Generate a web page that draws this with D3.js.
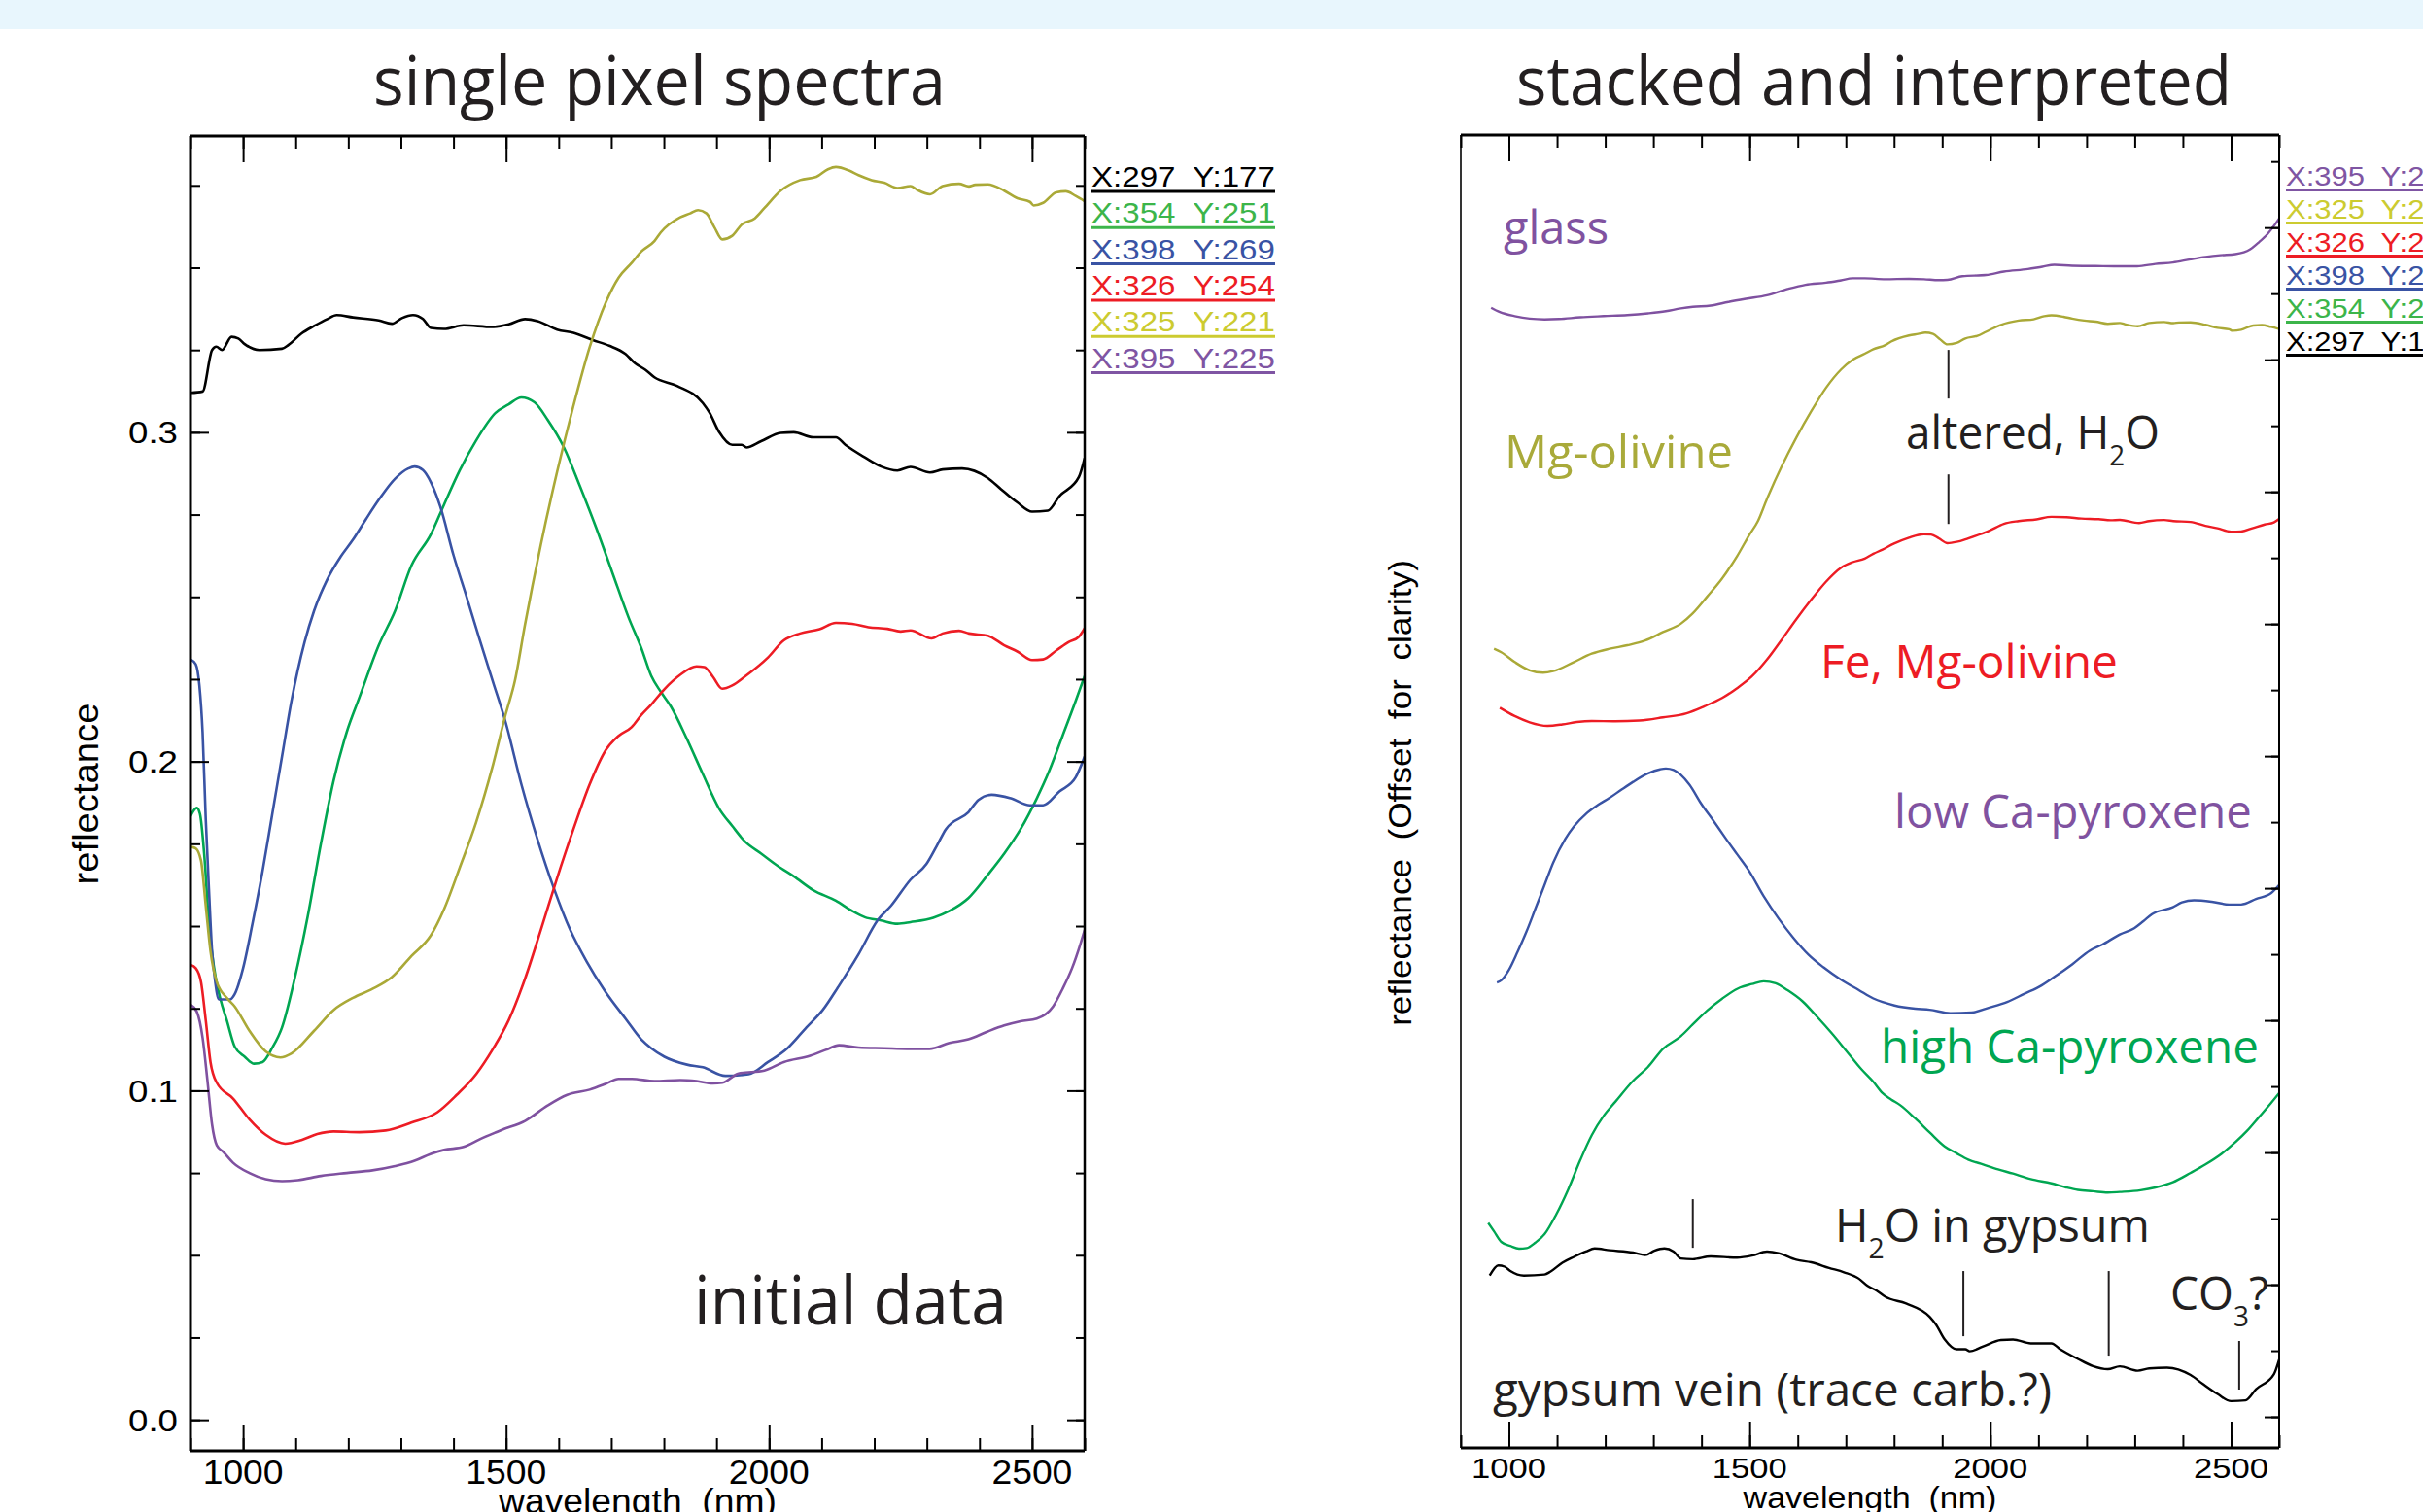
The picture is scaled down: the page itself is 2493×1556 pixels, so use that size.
<!DOCTYPE html>
<html>
<head>
<meta charset="utf-8">
<script src="https://cdn.jsdelivr.net/npm/d3@7"></script>
<style>
  body { margin: 0; background: #fff; }
  svg { display: block; }
</style>
</head>
<body>
<svg id="chart" width="2493" height="1556"></svg>
<script>
"use strict";

var spec297_177 = [[900,0.312],[923,0.3124],[941,0.325],[949,0.326],[960,0.325],[978,0.329],[991,0.3285],[1003,0.3268],[1031,0.325],[1074,0.3254],[1086,0.3265],[1111,0.330],[1135,0.3323],[1160,0.3344],[1178,0.3356],[1209,0.3349],[1258,0.334],[1283,0.333],[1302,0.3347],[1323,0.3356],[1342,0.3344],[1357,0.3317],[1382,0.3314],[1419,0.3325],[1474,0.332],[1505,0.3328],[1536,0.3344],[1560,0.3338],[1597,0.3312],[1628,0.3302],[1665,0.3280],[1696,0.3263],[1727,0.3238],[1745,0.3210],[1764,0.3191],[1782,0.3167],[1825,0.3141],[1874,0.3089],[1887,0.3059],[1905,0.3001],[1930,0.2962],[1948,0.2962],[1957,0.2954],[1985,0.2973],[2022,0.2998],[2047,0.3000],[2084,0.2985],[2127,0.2985],[2145,0.2962],[2182,0.2924],[2213,0.2896],[2244,0.2884],[2269,0.2895],[2306,0.2878],[2330,0.2887],[2367,0.2890],[2416,0.2861],[2441,0.2827],[2472,0.2787],[2500,0.2759],[2530,0.2762],[2552,0.2806],[2589,0.2864],[2600,0.2922]];

var spec354_251 = [[900,0.1834],[912,0.1859],[918,0.1841],[926,0.1720],[935,0.1509],[944,0.1382],[957,0.1277],[969,0.1214],[984,0.1134],[1003,0.1103],[1021,0.1082],[1037,0.1087],[1055,0.1129],[1074,0.1192],[1098,0.1340],[1123,0.1530],[1148,0.1751],[1172,0.1941],[1197,0.2089],[1221,0.2194],[1258,0.2353],[1289,0.2458],[1320,0.2595],[1357,0.2690],[1382,0.2780],[1412,0.2885],[1443,0.2975],[1480,0.3059],[1505,0.3085],[1529,0.3106],[1554,0.3091],[1579,0.3038],[1610,0.2954],[1640,0.2838],[1671,0.2711],[1702,0.2574],[1733,0.2437],[1757,0.2345],[1776,0.2260],[1794,0.2212],[1813,0.2168],[1844,0.2068],[1874,0.1962],[1905,0.1857],[1930,0.1804],[1954,0.1757],[1985,0.1720],[2016,0.1683],[2047,0.1651],[2084,0.1609],[2127,0.1577],[2158,0.1546],[2182,0.1527],[2213,0.1517],[2244,0.1507],[2269,0.1512],[2312,0.1525],[2343,0.1546],[2379,0.1585],[2416,0.1656],[2447,0.1720],[2478,0.1794],[2509,0.1888],[2533,0.1973],[2558,0.2078],[2583,0.2184],[2600,0.2260]];

var spec398_269 = [[900,0.2310],[910,0.2295],[917,0.2230],[923,0.2089],[929,0.1825],[935,0.1614],[941,0.1424],[947,0.1330],[954,0.1277],[975,0.1277],[984,0.1293],[1000,0.1372],[1018,0.1509],[1037,0.1667],[1055,0.1836],[1074,0.2015],[1092,0.2184],[1117,0.2363],[1135,0.2458],[1160,0.2553],[1185,0.2621],[1209,0.2674],[1234,0.2737],[1258,0.2795],[1289,0.2859],[1314,0.2890],[1326,0.2896],[1342,0.2885],[1357,0.2848],[1375,0.2774],[1400,0.2627],[1425,0.2500],[1449,0.2374],[1474,0.2247],[1499,0.2120],[1529,0.1931],[1560,0.1762],[1591,0.1614],[1622,0.1488],[1653,0.1393],[1690,0.1298],[1727,0.1219],[1757,0.1156],[1776,0.1129],[1801,0.1103],[1844,0.1079],[1874,0.1071],[1917,0.1045],[1961,0.1050],[1998,0.1087],[2035,0.1129],[2071,0.1192],[2102,0.1245],[2133,0.1319],[2170,0.1414],[2207,0.1519],[2232,0.1562],[2269,0.1641],[2299,0.1688],[2318,0.1741],[2336,0.1794],[2379,0.1846],[2398,0.1883],[2423,0.1899],[2460,0.1888],[2496,0.1867],[2521,0.1867],[2552,0.1909],[2583,0.1952],[2600,0.2015]];

var spec326_254 = [[900,0.1382],[910,0.1372],[920,0.1330],[929,0.1214],[938,0.1087],[950,0.1024],[981,0.0976],[1012,0.0913],[1043,0.0866],[1080,0.0839],[1111,0.0850],[1141,0.0868],[1172,0.0876],[1221,0.0874],[1271,0.0879],[1320,0.0903],[1369,0.0934],[1406,0.0987],[1443,0.1050],[1474,0.1124],[1505,0.1214],[1536,0.1340],[1566,0.1488],[1597,0.1646],[1628,0.1794],[1659,0.1931],[1690,0.2036],[1714,0.2078],[1739,0.2105],[1757,0.2141],[1776,0.2173],[1800,0.2218],[1831,0.2263],[1862,0.2289],[1877,0.2287],[1893,0.2258],[1911,0.2221],[1930,0.2231],[1954,0.2258],[1998,0.2316],[2028,0.2368],[2059,0.2389],[2096,0.2402],[2127,0.2421],[2158,0.2418],[2189,0.2408],[2225,0.2403],[2250,0.2395],[2269,0.2398],[2309,0.2374],[2330,0.2389],[2361,0.2397],[2380,0.2389],[2416,0.2382],[2447,0.2353],[2472,0.2334],[2500,0.2308],[2521,0.2310],[2546,0.2337],[2570,0.2363],[2589,0.2379],[2600,0.2405]];

var spec325_221 = [[900,0.1741],[910,0.1736],[920,0.1699],[929,0.1562],[938,0.1424],[950,0.1330],[969,0.1282],[984,0.1256],[1012,0.1182],[1043,0.1119],[1071,0.1101],[1092,0.1113],[1135,0.1182],[1172,0.1245],[1209,0.1282],[1246,0.1309],[1283,0.1345],[1320,0.1409],[1357,0.1472],[1382,0.1551],[1412,0.1678],[1443,0.1815],[1474,0.1983],[1499,0.2142],[1517,0.2247],[1536,0.2416],[1566,0.2658],[1597,0.2880],[1628,0.3080],[1659,0.3259],[1690,0.3396],[1714,0.3470],[1739,0.3515],[1757,0.3549],[1782,0.3581],[1794,0.3607],[1831,0.3653],[1850,0.3665],[1865,0.3675],[1881,0.3665],[1896,0.3623],[1911,0.3586],[1930,0.3597],[1948,0.3631],[1973,0.3650],[1991,0.3681],[2022,0.3734],[2059,0.3766],[2090,0.3776],[2112,0.3799],[2127,0.3806],[2152,0.3795],[2170,0.3781],[2195,0.3766],[2219,0.3758],[2244,0.3742],[2269,0.3748],[2281,0.3737],[2306,0.3723],[2330,0.3748],[2361,0.3755],[2380,0.3747],[2392,0.3752],[2416,0.3753],[2447,0.3734],[2472,0.3711],[2496,0.3700],[2503,0.3689],[2521,0.3697],[2546,0.3729],[2564,0.3732],[2583,0.3718],[2600,0.3702]];

var spec395_225 = [[900,0.1261],[912,0.1240],[923,0.1161],[932,0.1034],[941,0.0897],[950,0.0834],[963,0.0813],[981,0.0781],[1012,0.0750],[1043,0.0731],[1074,0.0725],[1104,0.0728],[1148,0.0741],[1197,0.0750],[1246,0.0758],[1289,0.0771],[1326,0.0787],[1357,0.0808],[1382,0.0820],[1419,0.0829],[1456,0.0857],[1492,0.0881],[1536,0.0908],[1579,0.0955],[1616,0.0987],[1659,0.1003],[1690,0.1021],[1714,0.1036],[1739,0.1036],[1782,0.1029],[1831,0.1032],[1862,0.1029],[1893,0.1022],[1911,0.1024],[1942,0.1052],[1991,0.1061],[2028,0.1087],[2078,0.1106],[2108,0.1124],[2133,0.1138],[2170,0.1131],[2219,0.1129],[2262,0.1127],[2305,0.1127],[2343,0.1145],[2379,0.1156],[2416,0.1180],[2447,0.1198],[2478,0.1211],[2509,0.1219],[2540,0.1256],[2558,0.1309],[2576,0.1372],[2592,0.1446],[2600,0.1488]];

// pixel names, in the order of the left legend
var pixelNames = ["X:297  Y:177", "X:354  Y:251", "X:398  Y:269", "X:326  Y:254", "X:325  Y:221", "X:395  Y:225"];
var pixelSpectra = [spec297_177, spec354_251, spec398_269, spec326_254, spec325_221, spec395_225];

// stacking used in the right panel: shown value = gain * reflectance + offset
var stackGain   = [1.935, 1, 1, 1, 1, 1];
var stackOffset = [-0.522, 0.019, 0.201, 0.439, 0.453, 0.758];
var stackStart = 955;   // nm, the stacked spectra start here

// ticks
var wlMajor = [1000, 1500, 2000, 2500];
var wlMinor = [900,1000,1100,1200,1300,1400,1500,1600,1700,1800,1900,2000,2100,2200,2300,2400,2500,2600];
var reflMajor = [0.0, 0.1, 0.2, 0.3];
var reflMinor = [0,0.025,0.05,0.075,0.1,0.125,0.15,0.175,0.2,0.225,0.25,0.275,0.3,0.325,0.35,0.375];
var stackMajor = [0,0.1,0.2,0.3,0.4,0.5,0.6,0.7,0.8,0.9];
var stackMinor = [0,0.05,0.1,0.15,0.2,0.25,0.3,0.35,0.4,0.45,0.5,0.55,0.6,0.65,0.7,0.75,0.8,0.85,0.9,0.95];

// absorption markers in the right panel: [wavelength, from, to] (stacked units)
var alteredMarks = [[1913, 0.8074, 0.7706], [1913, 0.7132, 0.6757]];
var gypsumMarks = [[1382, 0.1647, 0.1279], [1944, 0.1103, 0.0610], [2246, 0.1103, 0.0463], [2517, 0.0574, 0.0206]];

// colours
var lineColors   = ["#000000", "#00a651", "#3953a4", "#ed1c24", "#aaa937", "#7f51a0"];
var legendColors = ["#000000", "#3cb54a", "#3953a4", "#ed1c24", "#cccb30", "#7f55a3"];
var ink = "#231f20";
var titleFont = "'Open Sans', 'Noto Sans', sans-serif";
var axisFont = "'Liberation Sans', Arial, sans-serif";

var svg = d3.select("#chart");

svg.append("rect")
  .attr("width", 2493).attr("height", 30)
  .attr("fill", "#e8f6fd");

// text helper, squeezes/stretches horizontally to the measured width
function addLabel(parent, parts, o) {
  var t = parent.append("text")
    .attr("font-family", o.font || titleFont)
    .attr("font-size", o.size)
    .attr("fill", o.color || ink)
    .attr("text-anchor", o.anchor || "start")
    .style("white-space", "pre");
  [].concat(parts).forEach(function(p) {
    if (typeof p === "string") t.append("tspan").text(p);
    else t.append("tspan").attr("dy", p.dy).attr("font-size", p.size).text(p.t);
  });
  var k = o.width ? o.width / t.node().getComputedTextLength() : 1;
  t.attr("transform", "translate(" + o.x + "," + o.y + ")" +
    (o.rotate ? " rotate(" + o.rotate + ")" : "") + " scale(" + k + ",1)");
  return t;
}

function tickAxis(g, axisFn, scale, values, size, tr) {
  g.append("g")
    .attr("transform", tr)
    .call(axisFn(scale).tickValues(values).tickSize(-size).tickFormat(""))
    .call(function(a) {
      a.select(".domain").remove();
      a.selectAll("text").remove();
      a.selectAll("line").attr("stroke", "#000").attr("stroke-width", 2);
    });
}

function frame(g, x0, x1, y0, y1, w) {
  g.append("line").attr("x1", x0).attr("x2", x1).attr("y1", y0).attr("y2", y0).attr("stroke", "#000").attr("stroke-width", w[0]);
  g.append("line").attr("x1", x0).attr("x2", x1).attr("y1", y1).attr("y2", y1).attr("stroke", "#000").attr("stroke-width", w[1]);
  g.append("line").attr("x1", x0).attr("x2", x0).attr("y1", y0).attr("y2", y1).attr("stroke", "#000").attr("stroke-width", w[2]);
  g.append("line").attr("x1", x1).attr("x2", x1).attr("y1", y0).attr("y2", y1).attr("stroke", "#000").attr("stroke-width", w[3]);
}

// ---------------- left panel ----------------
var xL = d3.scaleLinear().domain([900, 2600]).range([196, 1116]);
var yL = d3.scaleLinear().domain([-0.0094, 0.39]).range([1493, 140]);

var left = svg.append("g").attr("class", "left");

left.append("clipPath").attr("id", "clipL")
  .append("rect").attr("x", 196).attr("y", 140).attr("width", 920).attr("height", 1353);

var lineL = d3.line()
  .x(function(d) { return xL(d[0]); })
  .y(function(d) { return yL(d[1]); })
  .curve(d3.curveMonotoneX);

var drawOrder = [0, 1, 2, 3, 4, 5];
left.append("g").attr("clip-path", "url(#clipL)")
  .selectAll("path")
  .data(drawOrder)
  .enter().append("path")
  .attr("d", function(i) { return lineL(pixelSpectra[i]); })
  .attr("fill", "none")
  .attr("stroke", function(i) { return lineColors[i]; })
  .attr("stroke-width", 2.6)
  .attr("stroke-linejoin", "round");

tickAxis(left, d3.axisBottom, xL, wlMinor, 13, "translate(0,1493)");
tickAxis(left, d3.axisBottom, xL, wlMajor, 27, "translate(0,1493)");
tickAxis(left, d3.axisTop, xL, wlMinor, 13, "translate(0,140)");
tickAxis(left, d3.axisTop, xL, wlMajor, 27, "translate(0,140)");
tickAxis(left, d3.axisLeft, yL, reflMinor, 10, "translate(196,0)");
tickAxis(left, d3.axisLeft, yL, reflMajor, 19, "translate(196,0)");
tickAxis(left, d3.axisRight, yL, reflMinor, 9, "translate(1116,0)");
tickAxis(left, d3.axisRight, yL, reflMajor, 18, "translate(1116,0)");
frame(left, 196, 1116, 140, 1493, [3, 3, 3, 2.5]);

wlMajor.forEach(function(v) {
  addLabel(left, String(v), { x: xL(v), y: 1527, size: 35, width: 83, anchor: "middle", font: axisFont, color: "#000" });
});
reflMajor.forEach(function(v) {
  addLabel(left, v.toFixed(1), { x: 183, y: yL(v) + 11.5, size: 32, width: 51, anchor: "end", font: axisFont, color: "#000" });
});
addLabel(left, "wavelength  (nm)", { x: 656, y: 1557, size: 36, width: 286, anchor: "middle", font: axisFont, color: "#000" });
addLabel(left, "reflectance", { x: 101, y: 817, size: 37, width: 187, anchor: "middle", font: axisFont, color: "#000", rotate: -90 });

// legend
pixelNames.forEach(function(name, i) {
  var base = 192 + i * 37.3;
  addLabel(left, name, { x: 1123, y: base, size: 30, width: 189, font: axisFont, color: legendColors[i] });
  left.append("line")
    .attr("x1", 1123).attr("x2", 1312)
    .attr("y1", base + 5).attr("y2", base + 5)
    .attr("stroke", legendColors[i]).attr("stroke-width", 3);
});

addLabel(svg, "single pixel spectra", { x: 384, y: 108, size: 70, width: 589 });
addLabel(svg, "initial data", { x: 714, y: 1363, size: 70, width: 322 });

// ---------------- right panel ----------------
var xR = d3.scaleLinear().domain([900, 2600]).range([1503, 2345]);
var yR = d3.scaleLinear().domain([-0.0235, 0.97]).range([1490, 139]);

var right = svg.append("g").attr("class", "right");

right.append("clipPath").attr("id", "clipR")
  .append("rect").attr("x", 1503).attr("y", 139).attr("width", 842).attr("height", 1351);

var stackOrder = [5, 4, 3, 2, 1, 0];
right.append("g").attr("clip-path", "url(#clipR)")
  .selectAll("path")
  .data(stackOrder)
  .enter().append("path")
  .attr("d", function(i) {
    var line = d3.line()
      .x(function(d) { return xR(d[0]); })
      .y(function(d) { return yR(stackGain[i] * d[1] + stackOffset[i]); })
      .curve(d3.curveMonotoneX);
    return line(pixelSpectra[i].filter(function(d) { return d[0] >= stackStart; }));
  })
  .attr("fill", "none")
  .attr("stroke", function(i) { return lineColors[i]; })
  .attr("stroke-width", 2.4)
  .attr("stroke-linejoin", "round");

right.append("g")
  .selectAll("line")
  .data(alteredMarks.concat(gypsumMarks))
  .enter().append("line")
  .attr("x1", function(d) { return xR(d[0]); })
  .attr("x2", function(d) { return xR(d[0]); })
  .attr("y1", function(d) { return yR(d[1]); })
  .attr("y2", function(d) { return yR(d[2]); })
  .attr("stroke", ink).attr("stroke-width", 2);

tickAxis(right, d3.axisBottom, xR, wlMinor, 13, "translate(0,1490)");
tickAxis(right, d3.axisBottom, xR, wlMajor, 27, "translate(0,1490)");
tickAxis(right, d3.axisTop, xR, wlMinor, 13, "translate(0,139)");
tickAxis(right, d3.axisTop, xR, wlMajor, 27, "translate(0,139)");
tickAxis(right, d3.axisRight, yR, stackMinor, 8, "translate(2345,0)");
tickAxis(right, d3.axisRight, yR, stackMajor, 15, "translate(2345,0)");
frame(right, 1503, 2345, 139, 1490, [3, 3, 1.6, 2]);

wlMajor.forEach(function(v) {
  addLabel(right, String(v), { x: xR(v), y: 1521, size: 30, width: 77, anchor: "middle", font: axisFont, color: "#000" });
});
addLabel(right, "wavelength  (nm)", { x: 1924, y: 1552, size: 32, width: 261, anchor: "middle", font: axisFont, color: "#000" });
addLabel(right, "reflectance  (Offset  for  clarity)", { x: 1452, y: 816, size: 33, width: 480, anchor: "middle", font: axisFont, color: "#000", rotate: -90 });

// legend (reverse order), runs off the page edge
stackOrder.forEach(function(i, r) {
  var base = 190.5 + r * 34;
  addLabel(right, pixelNames[i], { x: 2352, y: base, size: 28, width: 177, font: axisFont, color: legendColors[i] });
  right.append("line")
    .attr("x1", 2352).attr("x2", 2529)
    .attr("y1", base + 5).attr("y2", base + 5)
    .attr("stroke", legendColors[i]).attr("stroke-width", 3);
});

addLabel(svg, "stacked and interpreted", { x: 1560, y: 108, size: 70, width: 736 });

var sub = function(t) { return { t: t, dy: 17, size: 29 }; };
var up = function(t) { return { t: t, dy: -17 }; };
addLabel(right, "glass", { x: 1547, y: 251, size: 48, width: 108, color: "#8052a0" });
addLabel(right, "Mg-olivine", { x: 1548, y: 482, size: 48, width: 235, color: "#a9aa3a" });
addLabel(right, ["altered, H", sub("2"), up("O")], { x: 1961, y: 462, size: 48, width: 261 });
addLabel(right, "Fe, Mg-olivine", { x: 1873, y: 698, size: 48, width: 306, color: "#ed1c24" });
addLabel(right, "low Ca-pyroxene", { x: 1949, y: 852, size: 48, width: 368, color: "#8052a0" });
addLabel(right, "high Ca-pyroxene", { x: 1935, y: 1094, size: 48, width: 389, color: "#00a651" });
addLabel(right, ["H", sub("2"), up("O in gypsum")], { x: 1888, y: 1278, size: 48, width: 324 });
addLabel(right, ["CO", sub("3"), up("?")], { x: 2233, y: 1348, size: 48, width: 101 });
addLabel(right, "gypsum vein (trace carb.?)", { x: 1536, y: 1447, size: 48, width: 575 });
</script>
</body>
</html>
